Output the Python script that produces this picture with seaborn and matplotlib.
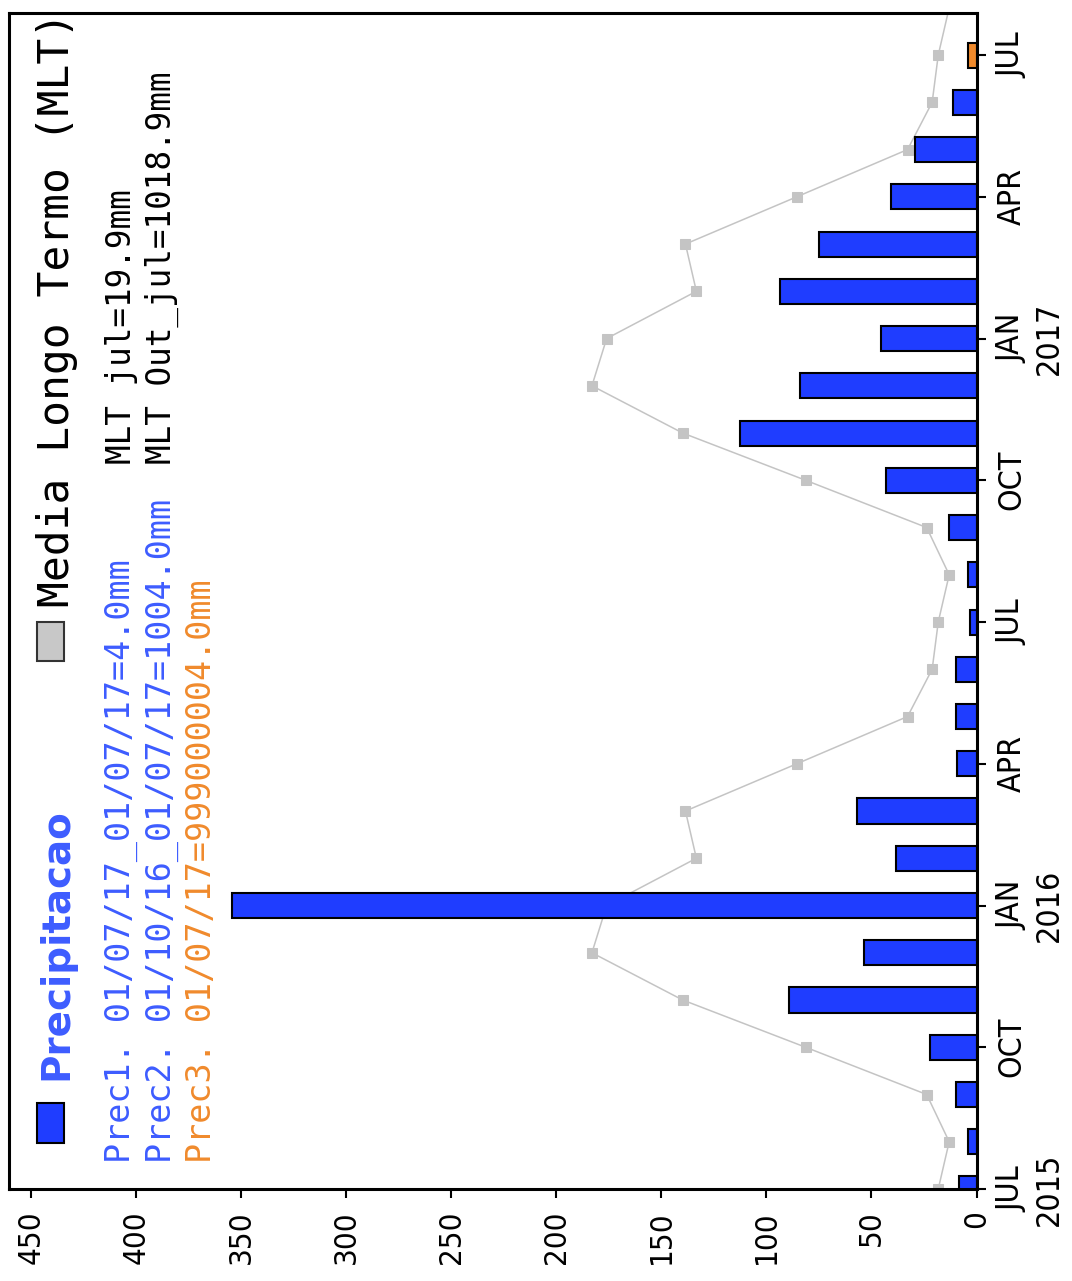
import pandas as pd
import matplotlib.pyplot as plt
import seaborn as sns
from matplotlib.patches import Rectangle

# eixo de meses: 0 = JUL 2015 ... 24 = JUL 2017, 25 = AUG 2017
month_ticks = [0, 3, 6, 9, 12, 15, 18, 21, 24]
month_labels = ['JUL\n2015', 'OCT', 'JAN\n2016', 'APR', 'JUL', 'OCT', 'JAN\n2017', 'APR', 'JUL']
value_ticks = [0, 50, 100, 150, 200, 250, 300, 350, 400, 450]

# precipitacao mensal (mm), JUL 2015 .. JUN 2017
prec_months = list(range(24))
prec_values = [8.1, 4.2, 9.7, 22.1, 89.4, 53.6, 354.4, 38.3, 56.9, 9.1, 9.7, 9.7,
               3.2, 4.2, 13.0, 43.2, 112.5, 83.9, 45.5, 93.6, 74.8, 40.6, 29.2, 11.4]
# Prec3 (JUL 2017)
prec3_months = [24]
prec3_values = [4.0]

# media de longo termo (MLT), JUL 2015 .. AUG 2017
mlt_months = list(range(26))
mlt_values = [18.2, 13.0, 23.7, 81.3, 139.8, 183.0, 176.0, 133.3, 138.5, 85.5, 32.8, 21.1,
              18.2, 13.0, 23.7, 81.3, 139.8, 183.0, 176.0, 133.3, 138.5, 85.5, 32.8, 21.1,
              18.2, 13.0]

BLUE = '#1f3dff'
TXT_BLUE = '#3d5cff'
ORANGE = '#f08a2c'
GRAY = '#c4c4c4'

sns.set_style('white')
plt.rcParams['font.family'] = ['DejaVu Sans']
plt.rcParams['font.stretch'] = 'condensed'

W, H = 1072, 1281
L, R, T, B = 9, 976.5, 13, 1189
fig = plt.figure(figsize=(W / 100, H / 100), dpi=100)
ax = fig.add_axes([L / W, 1 - B / H, (R - L) / W, (B - T) / H])

# linha MLT (por baixo das barras)
sns.lineplot(x=mlt_values, y=mlt_months, orient='y', sort=True, ax=ax,
             color=GRAY, linewidth=1.1, marker='s', markersize=7.5,
             markeredgecolor=GRAY, markerfacecolor=GRAY, zorder=1)

bars = pd.DataFrame({
    'month': prec_months + prec3_months,
    'value': prec_values + prec3_values,
    'serie': ['Prec'] * len(prec_months) + ['Prec3'] * len(prec3_months),
})
sns.barplot(data=bars, x='value', y='month', hue='serie', orient='y',
            native_scale=True, dodge=False, width=0.53, errorbar=None,
            palette={'Prec': BLUE, 'Prec3': ORANGE}, saturation=1,
            edgecolor='black', linewidth=1.5, legend=False, ax=ax, zorder=2)

ax.set_xlim(460.4, 0)
ax.set_ylim(0, 24.89)
ax.set_xlabel('')
ax.set_ylabel('')

ax.set_xticks(value_ticks)
ax.set_xticklabels([str(v) for v in value_ticks], rotation=90, fontsize=22.5)
ax.yaxis.tick_right()
ax.set_yticks(month_ticks)
ax.set_yticklabels(month_labels, fontsize=23)
for lbl in ax.get_yticklabels():
    lbl.set_rotation(90)
    lbl.set_va('center')
    lbl.set_ha('left')
    lbl.set_multialignment('center')
    lbl.set_linespacing(1.28)

ax.tick_params(axis='x', which='both', bottom=True, direction='out', length=6.5,
               width=1.5, pad=9, colors='black')
ax.tick_params(axis='y', which='both', right=True, left=False, direction='out',
               length=6.5, width=1.5, pad=8, colors='black')
for s in ax.spines.values():
    s.set_visible(True)
    s.set_color('black')
    s.set_linewidth(2.2)


def fx(x):
    return (x - L) / (R - L)


def fy(y):
    return (B - y) / (B - T)


# legenda / anotacoes (texto girado)
ax.add_patch(Rectangle((fx(37), fy(1143)), fx(64) - fx(37), fy(1103) - fy(1143),
                       transform=ax.transAxes, facecolor=BLUE, edgecolor='black',
                       linewidth=1.5, zorder=5))
ax.add_patch(Rectangle((fx(37), fy(661)), fx(64) - fx(37), fy(622) - fy(661),
                       transform=ax.transAxes, facecolor='#c8c8c8', edgecolor='#333333',
                       linewidth=1.5, zorder=5))

def rtext(x, y, s, **kw):
    ax.text(fx(x), fy(y), s, transform=ax.transAxes, rotation=90,
            rotation_mode='anchor', ha='left', va='baseline', **kw)

rtext(67, 1080, 'Precipitacao', color=TXT_BLUE, fontsize=28, fontweight='bold',
      family='DejaVu Sans', fontstretch='normal')
rtext(69, 607, 'Media Longo Termo (MLT)', color='black', fontsize=31,
      family='DejaVu Sans Mono')
rtext(130, 1163, 'Prec1. 01/07/17_01/07/17=4.0mm', color=TXT_BLUE, fontsize=24,
      family='DejaVu Sans Mono')
rtext(171, 1163, 'Prec2. 01/10/16_01/07/17=1004.0mm', color=TXT_BLUE, fontsize=24,
      family='DejaVu Sans Mono')
rtext(211, 1163, 'Prec3. 01/07/17=999000004.0mm', color=ORANGE, fontsize=24,
      family='DejaVu Sans Mono')
rtext(131, 464, 'MLT jul=19.9mm', color='black', fontsize=23.5,
      family='DejaVu Sans Mono')
rtext(171, 464, 'MLT Out_jul=1018.9mm', color='black', fontsize=23.5,
      family='DejaVu Sans Mono')

fig.savefig('out.png', dpi=100)
plt.close(fig)
